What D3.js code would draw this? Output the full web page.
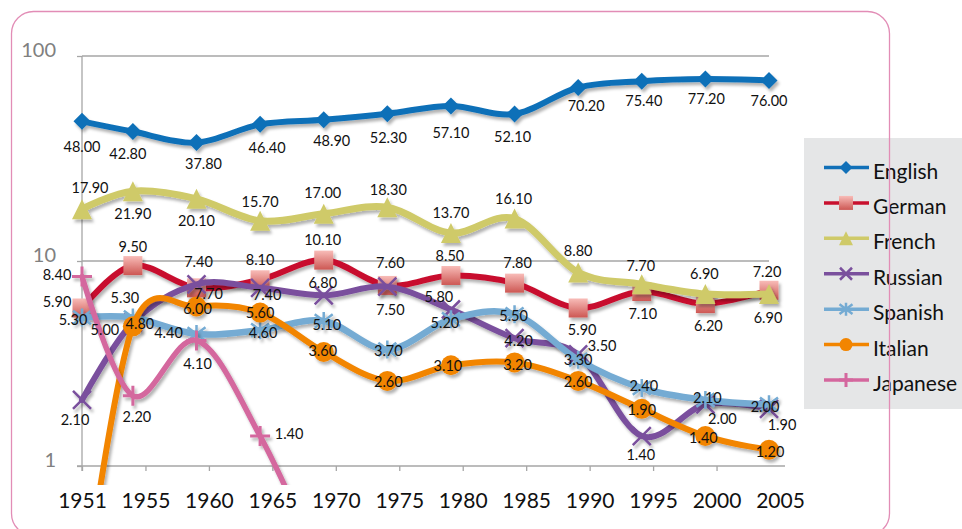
<!DOCTYPE html>
<html>
<head>
<meta charset="utf-8">
<script src="https://cdn.jsdelivr.net/npm/d3@7"></script>
<style>
  html, body { margin: 0; padding: 0; background: #fff; }
  svg { display: block; font-family: Lato, "Open Sans", sans-serif; }
</style>
</head>
<body>
<svg id="chart" width="962" height="529"></svg>
<script>
// Data
const years = [1951, 1955, 1960, 1965, 1970, 1975, 1980, 1985, 1990, 1995, 2000, 2005];
const yearLabels = ['1951', '1955', '1960', '1965', '1970', '1975', '1980', '1985', '1990', '1995', '2000', '2005'];
const yTicks = [1, 10, 100];

const seriesNames = ['English', 'German', 'French', 'Russian', 'Spanish', 'Italian', 'Japanese'];
const english = [48.0, 42.8, 37.8, 46.4, 48.9, 52.3, 57.1, 52.1, 70.2, 75.4, 77.2, 76.0];
const german = [5.9, 9.5, 7.4, 8.1, 10.1, 7.6, 8.5, 7.8, 5.9, 7.1, 6.2, 7.2];
const french = [17.9, 21.9, 20.1, 15.7, 17.0, 18.3, 13.7, 16.1, 8.8, 7.7, 6.9, 6.9];
const russian = [2.1, 5.0, 7.7, 7.4, 6.8, 7.5, 5.8, 4.2, 3.5, 1.4, 2.0, 1.9];
const spanish = [5.3, 5.3, 4.4, 4.6, 5.1, 3.7, 5.2, 5.5, 3.3, 2.4, 2.1, 2.0];
// first Italian value and last Japanese value fall below the axis (no label shown)
const italian = [0.2, 4.8, 6.0, 5.6, 3.6, 2.6, 3.1, 3.2, 2.6, 1.9, 1.4, 1.2];
const japanese = [8.4, 2.2, 4.1, 1.4, 0.3];
const showLabel = {
  Italian: [false, true, true, true, true, true, true, true, true, true, true, true],
  Japanese: [true, true, true, true, false]
};

// Label nudges (label centre relative to the point)
const labelNudge = {
  English: [[0,25],[-5,22],[7,21],[7,23],[8,21],[1,24],[0,27],[-2,22],[8,18],[2,19],[1,19],[0,20]],
  German: [[-25,-6],[0,-19],[2,-26],[0,-20],[-1,-21],[3,-23],[-1,-20],[3,-21],[4,22],[1,22],[3,22],[-2,-19]],
  French: [[8,-22],[0,22],[0,22],[0,-19],[-1,-21],[1,-18],[0,-20],[-1,-20],[0,-22],[-1,-19],[-1,-21],[-1,23]],
  Russian: [[-7,20],[-28,7],[12,9],[7,7],[-1,-13],[3,23],[-12,-13],[4,2],[24,-9],[-1,18],[17,14],[13,16]],
  Spanish: [[-9,2],[-8,-20],[-28,-2],[3,2],[3,4],[1,1],[-6,3],[-1,1],[0,0],[2,-3],[2,-2],[-4,2]],
  Italian: [[0,0],[7,-3],[1,2],[0,0],[-1,-1],[1,1],[-3,0],[3,2],[0,1],[0,1],[-2,1],[1,2]],
  Japanese: [[-25,-2],[4,21],[1,23],[29,-3],[0,0]]
};

const styles = {
  English: { color: '#1170b8', width: 6, marker: 'diamond', size: 8.5, legendSize: 6.5 },
  German: { color: '#c8102e', width: 6, marker: 'square', size: 9.5, legendSize: 7 },
  French: { color: '#cfca69', width: 7, marker: 'triangle', size: 10, legendSize: 7 },
  Russian: { color: '#7a509d', width: 6, marker: 'x', size: 9, legendSize: 6 },
  Spanish: { color: '#74abd3', width: 6.5, marker: 'asterisk', size: 9, legendSize: 6.5 },
  Italian: { color: '#f28500', width: 6, marker: 'circle', size: 10, legendSize: 6.5 },
  Japanese: { color: '#d4679e', width: 5.5, marker: 'plus', size: 10, legendSize: 7 }
};
const seriesValues = [english, german, french, russian, spanish, italian, japanese];

const svg = d3.select('#chart');

// Scales
const x = d3.scaleLinear().domain([1951, 2005]).range([82, 769]);
const xLabel = d3.scalePoint().domain(yearLabels).range([82, 780]);
const y = d3.scaleLog().domain([1, 100]).range([466, 56]);

// Defs: shadow + German square gradient + clip
const defs = svg.append('defs');
const shadow = defs.append('filter').attr('id', 'shadow')
  .attr('x', '-20%').attr('y', '-20%').attr('width', '140%').attr('height', '140%');
shadow.append('feDropShadow')
  .attr('dx', 2).attr('dy', 3).attr('stdDeviation', 1.8)
  .attr('flood-color', '#000').attr('flood-opacity', 0.3);
const grad = defs.append('linearGradient').attr('id', 'sqgrad')
  .attr('x1', 0).attr('y1', 0).attr('x2', 0).attr('y2', 1);
grad.append('stop').attr('offset', '0%').attr('stop-color', '#f8bcb8');
grad.append('stop').attr('offset', '100%').attr('stop-color', '#cd5753');
defs.append('clipPath').attr('id', 'plotclip')
  .append('rect').attr('x', 0).attr('y', 0).attr('width', 962).attr('height', 485);

function markerPath(type, s) {
  switch (type) {
    case 'diamond': return `M0,${-s}L${s},0L0,${s}L${-s},0Z`;
    case 'square': return `M${-s},${-s}H${s}V${s}H${-s}Z`;
    case 'triangle': return `M0,${-s}L${s},${s}L${-s},${s}Z`;
    case 'x': return `M${-s},${-s}L${s},${s}M${-s},${s}L${s},${-s}`;
    case 'asterisk': return `M${-s},${-s * 0.75}L${s},${s * 0.75}M${-s},${s * 0.75}L${s},${-s * 0.75}M0,${-s}V${s}`;
    case 'circle': return d3.arc()({ innerRadius: 0, outerRadius: s, startAngle: 0, endAngle: 2 * Math.PI });
    case 'plus': return `M${-s},0H${s}M0,${-s}V${s}`;
  }
}

function styleMarker(sel, st) {
  const stroked = ['x', 'asterisk', 'plus'].includes(st.marker);
  if (stroked) {
    sel.attr('fill', 'none').attr('stroke', st.color)
      .attr('stroke-width', st.marker === 'plus' ? 3 : 2.5);
  } else if (st.marker === 'square') {
    sel.attr('fill', 'url(#sqgrad)');
  } else {
    sel.attr('fill', st.color);
  }
}

// Background
svg.append('rect')
  .attr('x', 0).attr('y', 0).attr('width', 962).attr('height', 529).attr('fill', '#fff');

// Gridlines
svg.append('g')
  .selectAll('line')
  .data(yTicks.slice(1))
  .enter()
  .append('line')
  .attr('x1', 82).attr('x2', 769)
  .attr('y1', d => y(d)).attr('y2', d => y(d))
  .attr('stroke', '#a6a6a6').attr('stroke-width', 1.3);

// Y axis
const yAxis = svg.append('g')
  .attr('transform', 'translate(82,0)')
  .call(d3.axisLeft(y).tickValues(yTicks).tickFormat(d3.format('d')).tickSize(5));
yAxis.select('.domain').attr('stroke', '#a6a6a6').attr('stroke-width', 1.3)
  .attr('d', 'M0,56V471');
yAxis.selectAll('.tick line').attr('stroke', '#a6a6a6').attr('stroke-width', 1.3);
yAxis.selectAll('.tick text')
  .attr('fill', '#808080').attr('font-size', 20).attr('font-family', 'Lato')
  .attr('dy', null).attr('y', 0).attr('dominant-baseline', 'alphabetic')
  .attr('x', -26);

// X axis
const xAxis = svg.append('g')
  .attr('transform', 'translate(0,466)')
  .call(d3.axisBottom(xLabel).tickSize(5).tickPadding(22));
xAxis.select('.domain').attr('stroke', '#a6a6a6').attr('stroke-width', 1.3)
  .attr('d', 'M77,0H785');
xAxis.selectAll('.tick line').attr('stroke', '#a6a6a6').attr('stroke-width', 1.3)
  .filter(d => d === '2005').remove();
xAxis.selectAll('.tick text')
  .attr('fill', '#111').attr('font-size', 21).attr('font-family', 'Lato');

// Series
const line = d3.line()
  .x(d => x(d.year))
  .y(d => y(d.value))
  .curve(d3.curveCatmullRom.alpha(0));

const plot = svg.append('g').attr('clip-path', 'url(#plotclip)');

seriesNames.forEach((name, si) => {
  const st = styles[name];
  const pts = seriesValues[si].map((v, i) => ({ year: years[i], value: v }));
  const g = plot.append('g').attr('filter', 'url(#shadow)');
  g.append('path')
    .datum(pts)
    .attr('d', line)
    .attr('fill', 'none')
    .attr('stroke', st.color)
    .attr('stroke-width', st.width)
    .attr('stroke-linejoin', 'round')
    .attr('stroke-linecap', 'round');
  g.selectAll('.marker')
    .data(pts.filter(p => p.value >= 1))
    .enter()
    .append('path')
    .attr('class', 'marker')
    .attr('d', markerPath(st.marker, st.size))
    .attr('transform', d => `translate(${x(d.year)},${y(d.value)})`)
    .call(styleMarker, st);
});

// Data labels
seriesNames.forEach((name, si) => {
  const vals = seriesValues[si];
  const flags = showLabel[name] || vals.map(() => true);
  svg.append('g')
    .selectAll('text')
    .data(vals.map((v, i) => ({ v, i })).filter(d => flags[d.i]))
    .enter()
    .append('text')
    .attr('x', d => x(years[d.i]) + labelNudge[name][d.i][0])
    .attr('y', d => y(d.v) + labelNudge[name][d.i][1])
    .attr('text-anchor', 'middle')
    .attr('dominant-baseline', 'central')
    .attr('font-size', 14.5)
    .attr('fill', '#111')
    .text(d => d3.format('.2f')(d.v));
});

// Legend
const legend = svg.append('g');
legend.append('rect')
  .attr('x', 804).attr('y', 138).attr('width', 170).attr('height', 271)
  .attr('fill', '#e5e6e7');
const legendY = d3.scalePoint().domain(seriesNames).range([167.5, 380]);
const items = legend.selectAll('.item')
  .data(seriesNames)
  .enter()
  .append('g')
  .attr('class', 'item')
  .attr('transform', d => `translate(0,${legendY(d)})`);
items.append('line')
  .attr('x1', 824).attr('x2', 869)
  .attr('stroke', d => styles[d].color)
  .attr('stroke-width', 3.5);
items.append('path')
  .attr('transform', 'translate(846,0)')
  .each(function (d) {
    const st = styles[d];
    d3.select(this).attr('d', markerPath(st.marker, st.legendSize)).call(styleMarker, st);
  });
items.append('text')
  .attr('x', 873).attr('y', 11)
  .attr('font-size', 21)
  .attr('fill', '#111')
  .text(d => d);

// Pink rounded border (drawn over legend)
svg.append('rect')
  .attr('x', 11.5).attr('y', 11.5).attr('width', 878).attr('height', 524)
  .attr('rx', 22).attr('ry', 22)
  .attr('fill', 'none')
  .attr('stroke', '#e28db6').attr('stroke-width', 1.3);
</script>
</body>
</html>
